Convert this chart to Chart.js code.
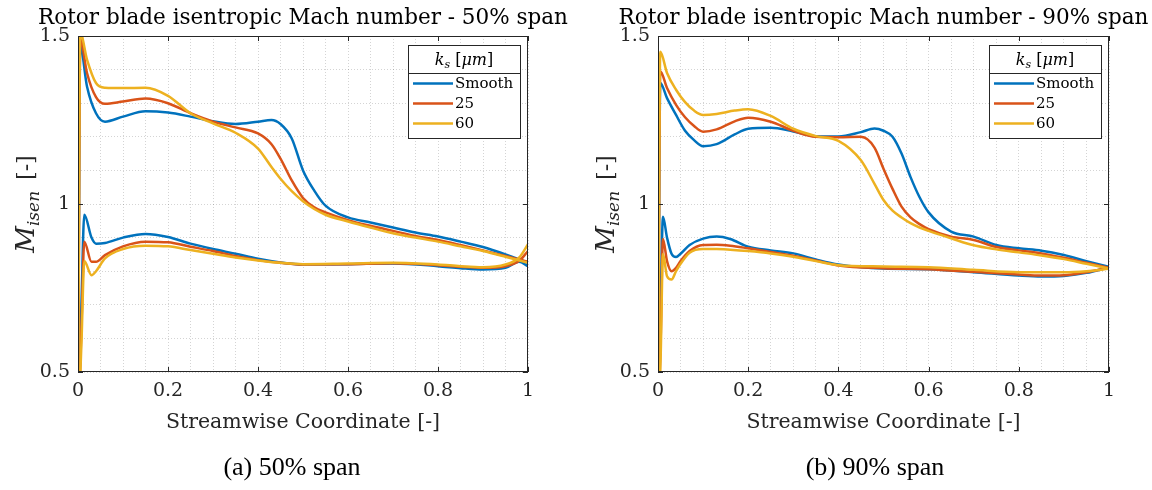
<!DOCTYPE html>
<html>
<head>
<meta charset="utf-8">
<script src="https://cdn.jsdelivr.net/npm/chart.js@4.4.1/dist/chart.umd.min.js"></script>
<style>
  html, body { margin: 0; padding: 0; background: #fff; }
  #wrap { position: relative; width: 1152px; height: 490px; }
  canvas { position: absolute; top: 0; }
</style>
</head>
<body>
<div id="wrap">
  <canvas id="span50" width="576" height="490" style="left:0"></canvas>
  <canvas id="span90" width="576" height="490" style="left:576px"></canvas>
</div>
<script>
// series names + colours (MATLAB default order)
const seriesLabels = ['Smooth', '25', '60'];
const seriesColors = ['#0072BD', '#D95319', '#EDB120'];

const xTickLabels = ['0', '0.2', '0.4', '0.6', '0.8', '1'];
const yTickLabels = ['0.5', '1', '1.5'];

// 50% span - suction side
const x50Upper = [0, 0.005, 0.02, 0.04, 0.06, 0.1, 0.15, 0.2, 0.25, 0.3, 0.35, 0.4, 0.43, 0.45, 0.475, 0.5, 0.525, 0.55, 0.6, 0.65, 0.7, 0.75, 0.8, 0.85, 0.9, 0.95, 1];
const smooth50Upper = [0.3, 1.47, 1.35, 1.27, 1.245, 1.26, 1.276, 1.272, 1.26, 1.246, 1.238, 1.245, 1.25, 1.238, 1.195, 1.1, 1.04, 0.995, 0.96, 0.945, 0.93, 0.915, 0.903, 0.888, 0.872, 0.85, 0.825];
const r25_50Upper = [0.3, 1.49, 1.39, 1.318, 1.298, 1.305, 1.314, 1.3, 1.27, 1.245, 1.228, 1.21, 1.178, 1.135, 1.07, 1.018, 0.99, 0.975, 0.952, 0.935, 0.92, 0.905, 0.893, 0.878, 0.862, 0.845, 0.828];
const r60_50Upper = [0.3, 1.51, 1.43, 1.36, 1.346, 1.345, 1.346, 1.322, 1.27, 1.24, 1.212, 1.165, 1.11, 1.075, 1.038, 1.008, 0.985, 0.968, 0.948, 0.93, 0.913, 0.9, 0.888, 0.874, 0.86, 0.843, 0.825];
// 50% span - pressure side
const x50Lower = [0, 0.008, 0.014, 0.03, 0.04, 0.06, 0.1, 0.15, 0.2, 0.25, 0.3, 0.35, 0.4, 0.45, 0.5, 0.6, 0.7, 0.8, 0.85, 0.9, 0.95, 0.98, 1];
const smooth50Lower = [0.3, 0.72, 0.968, 0.9, 0.882, 0.884, 0.9, 0.911, 0.902, 0.882, 0.866, 0.852, 0.837, 0.826, 0.82, 0.821, 0.823, 0.815, 0.809, 0.805, 0.81, 0.828, 0.815];
const r25_50Lower = [0.3, 0.65, 0.888, 0.828, 0.828, 0.848, 0.874, 0.888, 0.886, 0.873, 0.86, 0.845, 0.833, 0.825, 0.82, 0.821, 0.824, 0.818, 0.813, 0.81, 0.815, 0.83, 0.86];
const r60_50Lower = [0.3, 0.6, 0.83, 0.788, 0.8, 0.838, 0.866, 0.876, 0.874, 0.863, 0.852, 0.841, 0.832, 0.825, 0.821, 0.823, 0.825, 0.82, 0.815, 0.812, 0.82, 0.84, 0.88];

// 90% span - suction side
const x90Upper = [0, 0.005, 0.02, 0.04, 0.06, 0.08, 0.1, 0.13, 0.17, 0.2, 0.25, 0.3, 0.35, 0.4, 0.45, 0.48, 0.5, 0.52, 0.54, 0.56, 0.58, 0.6, 0.65, 0.7, 0.75, 0.8, 0.85, 0.9, 0.95, 1];
const smooth90Upper = [0.3, 1.36, 1.315, 1.265, 1.218, 1.19, 1.172, 1.178, 1.207, 1.224, 1.227, 1.216, 1.202, 1.201, 1.214, 1.225, 1.218, 1.2, 1.15, 1.08, 1.02, 0.975, 0.918, 0.903, 0.878, 0.868, 0.861, 0.848, 0.83, 0.813];
const r25_90Upper = [0.3, 1.395, 1.345, 1.295, 1.258, 1.232, 1.215, 1.222, 1.246, 1.257, 1.245, 1.218, 1.2, 1.199, 1.2, 1.168, 1.105, 1.045, 0.992, 0.96, 0.94, 0.925, 0.903, 0.893, 0.872, 0.862, 0.853, 0.84, 0.825, 0.81];
const r60_90Upper = [0.3, 1.453, 1.39, 1.34, 1.303, 1.278, 1.265, 1.268, 1.278, 1.282, 1.262, 1.224, 1.202, 1.188, 1.13, 1.06, 1.012, 0.98, 0.96, 0.943, 0.93, 0.92, 0.898, 0.877, 0.865, 0.856, 0.847, 0.836, 0.822, 0.808];
// 90% span - pressure side
const x90Lower = [0, 0.006, 0.011, 0.02, 0.03, 0.04, 0.05, 0.07, 0.1, 0.13, 0.16, 0.2, 0.25, 0.3, 0.35, 0.4, 0.5, 0.6, 0.7, 0.8, 0.85, 0.9, 0.95, 1];
const smooth90Lower = [0.3, 0.7, 0.962, 0.9, 0.852, 0.842, 0.852, 0.878, 0.897, 0.903, 0.896, 0.873, 0.862, 0.853, 0.835, 0.82, 0.808, 0.806, 0.797, 0.787, 0.784, 0.786, 0.795, 0.812];
const r25_90Lower = [0.3, 0.6, 0.896, 0.83, 0.8, 0.81, 0.83, 0.86, 0.878, 0.879, 0.876, 0.868, 0.857, 0.846, 0.832, 0.817, 0.809, 0.806, 0.798, 0.79, 0.787, 0.788, 0.797, 0.81];
const r60_90Lower = [0.3, 0.55, 0.851, 0.785, 0.775, 0.8, 0.822, 0.855, 0.866, 0.866, 0.864, 0.86, 0.853, 0.843, 0.83, 0.818, 0.814, 0.812, 0.804, 0.797, 0.797, 0.797, 0.8, 0.807];

const serif = '"DejaVu Serif", serif';

function pts(xs, ys) {
  return xs.map((x, i) => ({ x: x, y: ys[i] }));
}

function makeDatasets(xu, uppers, xl, lowers) {
  const out = [];
  for (let i = 0; i < seriesLabels.length; i++) {
    const common = {
      borderColor: seriesColors[i],
      borderWidth: 2.5,
      pointRadius: 0,
      cubicInterpolationMode: 'monotone',
      fill: false,
      order: seriesLabels.length - i,
      clip: 0
    };
    out.push(Object.assign({ label: seriesLabels[i], data: pts(xu, uppers[i]) }, common));
    out.push(Object.assign({ label: seriesLabels[i] + ' (ps)', data: pts(xl, lowers[i]) }, common));
  }
  return out;
}

// title, frame, ticks, y label, legend box, caption
const texFrame = {
  id: 'texFrame',
  afterDraw(chart, args, opts) {
    const ctx = chart.ctx;
    const a = chart.chartArea;
    const xs = chart.scales.x, ys = chart.scales.y;
    ctx.save();

    // box + inward ticks
    ctx.strokeStyle = '#262626';
    ctx.lineWidth = 1;
    ctx.strokeRect(a.left + 0.5, a.top + 0.5, a.right - a.left - 1, a.bottom - a.top - 1);
    ctx.beginPath();
    xTickLabels.forEach(t => {
      const p = Math.round(xs.getPixelForValue(parseFloat(t))) + 0.5;
      ctx.moveTo(p, a.bottom); ctx.lineTo(p, a.bottom - 5);
      ctx.moveTo(p, a.top); ctx.lineTo(p, a.top + 5);
    });
    yTickLabels.forEach(t => {
      const p = Math.round(ys.getPixelForValue(parseFloat(t))) + 0.5;
      ctx.moveTo(a.left, p); ctx.lineTo(a.left + 5, p);
      ctx.moveTo(a.right, p); ctx.lineTo(a.right - 5, p);
    });
    ctx.stroke();

    ctx.fillStyle = '#000';
    // title
    ctx.font = '21.5px ' + serif;
    ctx.textAlign = 'center';
    ctx.textBaseline = 'alphabetic';
    ctx.fillText(opts.title, (a.left + a.right) / 2, 24);

    // x axis title
    ctx.font = '20.5px ' + serif;
    ctx.fillStyle = '#262626';
    ctx.fillText('Streamwise Coordinate [-]', (a.left + a.right) / 2, a.bottom + 56);

    // y axis title  M_isen [-]
    ctx.save();
    ctx.translate(a.left - 44, (a.top + a.bottom) / 2);
    ctx.rotate(-Math.PI / 2);
    ctx.textAlign = 'left';
    const fM = 'italic 26px ' + serif, fSub = 'italic 17px ' + serif, fB = '22px ' + serif;
    ctx.font = fM; const wM = ctx.measureText('M').width;
    ctx.font = fSub; const wS = ctx.measureText('isen').width;
    ctx.font = fB; const wB = ctx.measureText('[-]').width;
    const gap = 11;
    let px = -(wM + wS + gap + wB) / 2;
    ctx.font = fM; ctx.fillText('M', px, 0); px += wM;
    ctx.font = fSub; ctx.fillText('isen', px, 5); px += wS + gap;
    ctx.font = fB; ctx.fillText('[-]', px, -1);
    ctx.restore();

    // legend
    const lr = a.right - 8, lw = 112, ll = lr - lw, lt = a.top + 8.5, lh = 93;
    ctx.fillStyle = '#fff';
    ctx.fillRect(ll, lt, lw, lh);
    ctx.strokeStyle = '#262626';
    ctx.lineWidth = 1;
    ctx.strokeRect(Math.round(ll) + 0.5, Math.round(lt) + 0.5, lw, lh);
    ctx.beginPath();
    ctx.moveTo(ll, Math.round(lt + 28) + 0.5);
    ctx.lineTo(ll + lw, Math.round(lt + 28) + 0.5);
    ctx.stroke();
    // header k_s [μm]
    ctx.fillStyle = '#000';
    ctx.textBaseline = 'alphabetic';
    ctx.textAlign = 'left';
    const hk = 'italic 16px ' + serif, hs = 'italic 11px ' + serif, hb = '16px ' + serif;
    ctx.font = hk; const wk = ctx.measureText('k').width;
    ctx.font = hs; const ws = ctx.measureText('s').width;
    ctx.font = hb; const wo = ctx.measureText(' [').width, wc = ctx.measureText(']').width;
    ctx.font = hk; const wu = ctx.measureText('μm').width;
    let hx = ll + lw / 2 - (wk + ws + wo + wu + wc) / 2;
    const hy = lt + 20;
    ctx.font = hk; ctx.fillText('k', hx, hy); hx += wk;
    ctx.font = hs; ctx.fillText('s', hx, hy + 3); hx += ws;
    ctx.font = hb; ctx.fillText(' [', hx, hy); hx += wo;
    ctx.font = hk; ctx.fillText('μm', hx, hy); hx += wu;
    ctx.font = hb; ctx.fillText(']', hx, hy);
    // entries
    ctx.font = '15px ' + serif;
    ctx.textBaseline = 'middle';
    seriesLabels.forEach((lab, i) => {
      const yy = lt + 39 + i * 20;
      ctx.strokeStyle = seriesColors[i];
      ctx.lineWidth = 2.5;
      ctx.beginPath();
      ctx.moveTo(ll + 5, yy); ctx.lineTo(ll + 45, yy);
      ctx.stroke();
      ctx.fillStyle = '#000';
      ctx.fillText(lab, ll + 47, yy + 1);
    });

    // sub-figure caption
    ctx.font = '26px "Liberation Serif", serif';
    ctx.textAlign = 'center';
    ctx.textBaseline = 'middle';
    ctx.fillStyle = '#000';
    ctx.fillText(opts.caption, opts.captionX, 468);
    ctx.restore();
  }
};

function makeChart(id, datasets, yWidth, padRight, title, caption, captionX) {
  return new Chart(document.getElementById(id), {
    type: 'line',
    data: { datasets: datasets },
    plugins: [texFrame],
    options: {
      responsive: false,
      animation: false,
      layout: { padding: { top: 36, right: padRight, left: 0, bottom: 0 } },
      plugins: {
        legend: { display: false },
        tooltip: { enabled: false },
        texFrame: { title: title, caption: caption, captionX: captionX }
      },
      scales: {
        x: {
          type: 'linear',
          min: 0, max: 1,
          afterFit: s => { s.height = 118; },
          grid: { color: 'rgba(0,0,0,0.17)', drawTicks: false },
          border: { display: false, dash: [1, 2] },
          ticks: {
            stepSize: 0.05,
            autoSkip: false,
            maxRotation: 0,
            padding: 8,
            color: '#262626',
            font: { family: serif, size: 19 },
            callback: v => {
              const k = Math.round(v / 0.2);
              return Math.abs(v - k * 0.2) < 1e-6 ? xTickLabels[k] : '';
            }
          }
        },
        y: {
          min: 0.5, max: 1.5,
          afterFit: s => { s.width = yWidth; },
          grid: { color: 'rgba(0,0,0,0.17)', drawTicks: false },
          border: { display: false, dash: [1, 2] },
          ticks: {
            stepSize: 0.1,
            autoSkip: false,
            padding: 8,
            color: '#262626',
            font: { family: serif, size: 19 },
            callback: v => {
              const k = Math.round((v - 0.5) / 0.5);
              return Math.abs(v - 0.5 - k * 0.5) < 1e-6 ? yTickLabels[k] : '';
            }
          }
        }
      }
    }
  });
}

makeChart('span50',
  makeDatasets(x50Upper, [smooth50Upper, r25_50Upper, r60_50Upper], x50Lower, [smooth50Lower, r25_50Lower, r60_50Lower]),
  78, 48, 'Rotor blade isentropic Mach number - 50% span', '(a) 50% span', 292);

makeChart('span90',
  makeDatasets(x90Upper, [smooth90Upper, r25_90Upper, r60_90Upper], x90Lower, [smooth90Lower, r25_90Lower, r60_90Lower]),
  82, 43, 'Rotor blade isentropic Mach number - 90% span', '(b) 90% span', 299);
</script>
</body>
</html>
